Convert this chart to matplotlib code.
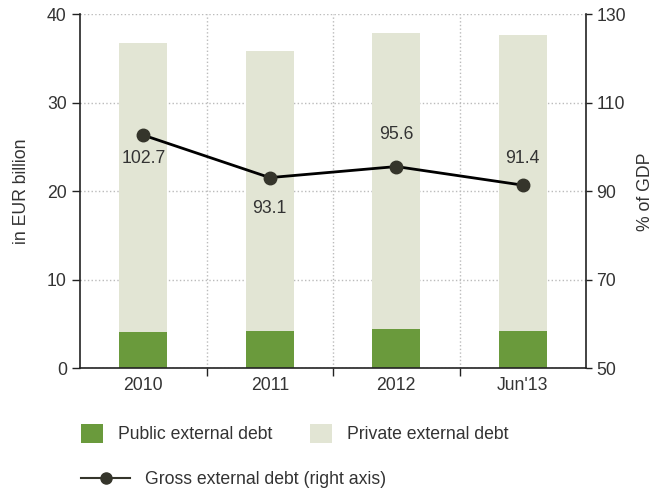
import matplotlib.pyplot as plt
from matplotlib.patches import Patch
from matplotlib.lines import Line2D

plt.rcParams['font.family'] = ['Liberation Sans', 'DejaVu Sans']

periods = ["2010", "2011", "2012", "Jun'13"]
public_debt = [4.1, 4.2, 4.5, 4.2]
total_debt = [36.8, 35.8, 37.9, 37.6]
private_debt = [t - p for t, p in zip(total_debt, public_debt)]
gross_pct_gdp = [102.7, 93.1, 95.6, 91.4]

green = '#6a9a3c'
beige = '#e2e5d4'
txt = '#333333'
fs = 12.7

fig = plt.figure(figsize=(6.53, 4.9), dpi=100)
ax = fig.add_axes([0.1225, 0.248, 0.775, 0.723])
x = list(range(len(periods)))

ax.bar(x, public_debt, width=0.38, color=green, zorder=2)
ax.bar(x, private_debt, width=0.38, bottom=public_debt, color=beige, zorder=2)

ax.set_xlim(-0.5, 3.5)
ax.set_ylim(0, 40)
ax.set_yticks([0, 10, 20, 30, 40])
# major ticks sit between categories (gridlines), labels on minor ticks
ax.set_xticks([0.5, 1.5, 2.5], minor=False)
ax.set_xticks(x, minor=True)
ax.set_xticklabels([])
ax.set_xticklabels(periods, minor=True)
ax.tick_params(axis='x', which='minor', length=0, labelsize=fs, labelcolor=txt, pad=6)
ax.tick_params(axis='x', which='major', length=6, width=1, color='#222222')
ax.tick_params(axis='y', length=6, width=1, labelsize=fs, labelcolor=txt, color='#222222')
ax.grid(True, which='major', color='#bbbbbb', linestyle=':', linewidth=1, zorder=0)
ax.set_axisbelow(True)
for s in ['left', 'bottom']:
    ax.spines[s].set_color('#222222')
    ax.spines[s].set_linewidth(1.2)
ax.spines['top'].set_visible(False)
ax.spines['right'].set_visible(False)
ax.set_ylabel('in EUR billion', fontsize=fs, color=txt, labelpad=12)

ax2 = ax.twinx()
ax2.set_ylim(50, 130)
ax2.set_yticks([50, 70, 90, 110, 130])
ax2.tick_params(axis='y', length=4, width=1, labelsize=fs, labelcolor=txt, color='#222222')
for s in ['top', 'left', 'bottom']:
    ax2.spines[s].set_visible(False)
ax2.spines['right'].set_color('#222222')
ax2.spines['right'].set_linewidth(1.2)
ax2.set_ylabel('% of GDP', fontsize=fs, color=txt, labelpad=8)

ax2.plot(x, gross_pct_gdp, color='black', linewidth=2, marker='o', markersize=9,
         markerfacecolor='#35352b', markeredgecolor='#35352b', zorder=3)
offsets = [-16.5, -22, 23, 19]
for xi, v, off in zip(x, gross_pct_gdp, offsets):
    ax2.annotate(f'{v:.1f}', (xi, v), xytext=(0, off), textcoords='offset points',
                 ha='center', va='center', fontsize=fs, color=txt)

h_pub = Patch(facecolor=green, label='Public external debt')
h_priv = Patch(facecolor=beige, label='Private external debt')
h_line = Line2D([], [], color='#35352b', linewidth=1.5, marker='o', markersize=8,
                label='Gross external debt (right axis)')

fig.legend(handles=[h_pub, h_priv], loc='upper left', bbox_to_anchor=(0.124, 0.135),
           ncol=2, frameon=False, fontsize=fs, handlelength=1.25, handleheight=1.25,
           handletextpad=0.85, columnspacing=2.15, borderpad=0, borderaxespad=0,
           labelcolor=txt)
fig.legend(handles=[h_line], loc='upper left', bbox_to_anchor=(0.124, 0.039),
           frameon=False, fontsize=fs, handlelength=2.8, handletextpad=0.85,
           borderpad=0, borderaxespad=0, labelcolor=txt)

fig.savefig('out.png', dpi=100)
